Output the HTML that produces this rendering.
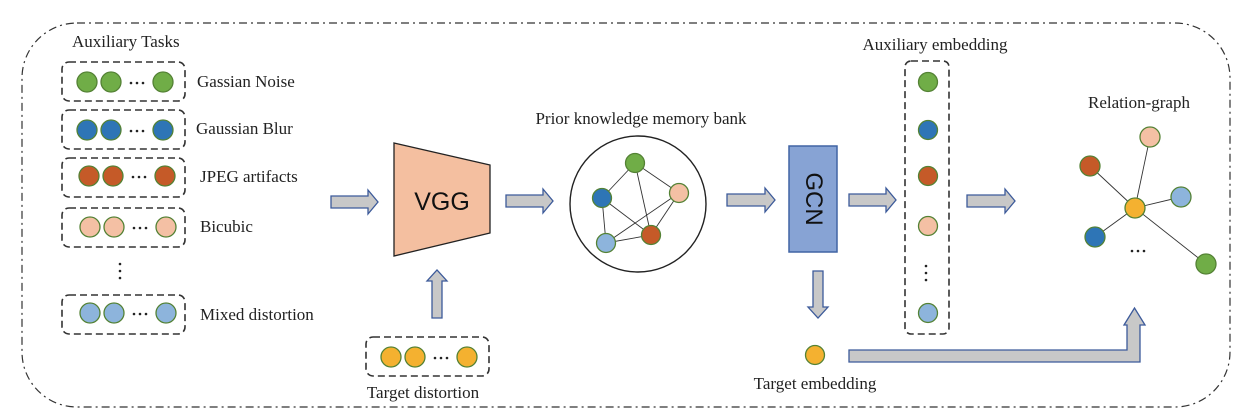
<!DOCTYPE html>
<html><head><meta charset="utf-8"><style>
body{margin:0;background:#fff}
svg{display:block}
.t{font-family:"Liberation Serif",serif;font-size:17px;fill:#222}
</style></head><body>
<svg width="1243" height="417" viewBox="0 0 1243 417" xmlns="http://www.w3.org/2000/svg">
<defs>
<g id="dots"><circle cx="0" cy="0" r="1.3" fill="#222"/><circle cx="6" cy="0" r="1.3" fill="#222"/><circle cx="12" cy="0" r="1.3" fill="#222"/></g>
</defs>
<rect x="22" y="23" width="1208" height="384" rx="55" fill="none" stroke="#333" stroke-width="1.2" stroke-dasharray="8,4,2,4"/>
<text class="t" x="72" y="47">Auxiliary Tasks</text>

<g stroke="#333" stroke-width="1.6" fill="none" stroke-dasharray="7,4">
<rect x="62" y="62" width="123" height="39" rx="7"/>
<rect x="62" y="110" width="123" height="39" rx="7"/>
<rect x="62" y="158" width="123" height="39" rx="7"/>
<rect x="62" y="208" width="123" height="39" rx="7"/>
<rect x="62" y="295" width="123" height="39" rx="7"/>
<rect x="366" y="337" width="123" height="39" rx="7"/>
<rect x="905" y="61" width="44" height="273" rx="6"/>
</g>
<g stroke="#548235" stroke-width="1.3">
<circle cx="87" cy="82" r="10" fill="#70ad47"/><circle cx="111" cy="82" r="10" fill="#70ad47"/><circle cx="163" cy="82" r="10" fill="#70ad47"/>
<circle cx="87" cy="130" r="10" fill="#2e75b6"/><circle cx="111" cy="130" r="10" fill="#2e75b6"/><circle cx="163" cy="130" r="10" fill="#2e75b6"/>
<circle cx="89" cy="176" r="10" fill="#c55a28"/><circle cx="113" cy="176" r="10" fill="#c55a28"/><circle cx="165" cy="176" r="10" fill="#c55a28"/>
<circle cx="90" cy="227" r="10" fill="#f4c0a4"/><circle cx="114" cy="227" r="10" fill="#f4c0a4"/><circle cx="166" cy="227" r="10" fill="#f4c0a4"/>
<circle cx="90" cy="313" r="10" fill="#8db4dc"/><circle cx="114" cy="313" r="10" fill="#8db4dc"/><circle cx="166" cy="313" r="10" fill="#8db4dc"/>
<circle cx="391" cy="357" r="10" fill="#f4b130"/><circle cx="415" cy="357" r="10" fill="#f4b130"/><circle cx="467" cy="357" r="10" fill="#f4b130"/>
</g>
<use href="#dots" x="131" y="83"/><use href="#dots" x="131" y="131"/><use href="#dots" x="133" y="177"/><use href="#dots" x="134" y="228"/><use href="#dots" x="134" y="314"/><use href="#dots" x="435" y="358"/>
<g fill="#222"><circle cx="120" cy="264" r="1.3"/><circle cx="120" cy="271" r="1.3"/><circle cx="120" cy="278" r="1.3"/></g>
<text class="t" x="197" y="87">Gassian Noise</text>
<text class="t" x="196" y="134">Gaussian Blur</text>
<text class="t" x="200" y="182">JPEG artifacts</text>
<text class="t" x="200" y="232">Bicubic</text>
<text class="t" x="200" y="320">Mixed distortion</text>
<text class="t" x="423" y="398" text-anchor="middle">Target distortion</text>

<g fill="#c8c8c8" stroke="#3c5a9a" stroke-width="1.3">
<path d="M331,196 H368 V190 L378,202 L368,214 V208 H331 Z"/>
<path d="M506,195 H543 V189 L553,201 L543,213 V207 H506 Z"/>
<path d="M727,194 H765 V188 L775,200 L765,212 V206 H727 Z"/>
<path d="M849,194 H886 V188 L896,200 L886,212 V206 H849 Z"/>
<path d="M967,195 H1005 V189 L1015,201 L1005,213 V207 H967 Z"/>
<path d="M432,318 V281 H427 L437,270 L447,281 H442 V318 Z"/>
<path d="M813,271 V307 H808 L818,318 L828,307 H823 V271 Z"/>
<path d="M849,350 H1127 V325 H1124 L1134.5,308 L1145,325 H1140 V362 H849 Z"/>
</g>

<path d="M394,143 L490,165 L490,233 L394,256 Z" fill="#f4bfa0" stroke="#222" stroke-width="1.3"/>
<text x="442" y="210" font-family="Liberation Sans,sans-serif" font-size="25" text-anchor="middle" fill="#111">VGG</text>

<text class="t" x="641" y="124" text-anchor="middle">Prior knowledge memory bank</text>
<circle cx="638" cy="204" r="68" fill="none" stroke="#222" stroke-width="1.4"/>
<g stroke="#333" stroke-width="0.9">
<line x1="635" y1="163" x2="602" y2="198"/><line x1="635" y1="163" x2="679" y2="193"/><line x1="635" y1="163" x2="651" y2="235"/>
<line x1="602" y1="198" x2="606" y2="243"/><line x1="602" y1="198" x2="651" y2="235"/><line x1="606" y1="243" x2="651" y2="235"/>
<line x1="606" y1="243" x2="679" y2="193"/><line x1="651" y1="235" x2="679" y2="193"/>
</g>
<g stroke="#548235" stroke-width="1.3">
<circle cx="635" cy="163" r="9.5" fill="#70ad47"/><circle cx="602" cy="198" r="9.5" fill="#2e75b6"/><circle cx="679" cy="193" r="9.5" fill="#f4c0a4"/><circle cx="606" cy="243" r="9.5" fill="#8db4dc"/><circle cx="651" cy="235" r="9.5" fill="#c55a28"/>
</g>

<rect x="789" y="146" width="48" height="106" fill="#87a3d4" stroke="#4064a4" stroke-width="1.5"/>
<text x="0" y="0" transform="translate(806,199) rotate(90)" font-family="Liberation Sans,sans-serif" font-size="24" text-anchor="middle" fill="#111">GCN</text>

<text class="t" x="935" y="50" text-anchor="middle">Auxiliary embedding</text>
<g stroke="#548235" stroke-width="1.3">
<circle cx="928" cy="82" r="9.5" fill="#70ad47"/><circle cx="928" cy="130" r="9.5" fill="#2e75b6"/><circle cx="928" cy="176" r="9.5" fill="#c55a28"/><circle cx="928" cy="226" r="9.5" fill="#f4c0a4"/><circle cx="928" cy="313" r="9.5" fill="#8db4dc"/>
<circle cx="815" cy="355" r="9.5" fill="#f4b130"/>
</g>
<g fill="#222"><circle cx="926" cy="266" r="1.3"/><circle cx="926" cy="273" r="1.3"/><circle cx="926" cy="280" r="1.3"/></g>
<text class="t" x="815" y="389" text-anchor="middle">Target embedding</text>

<text class="t" x="1139" y="108" text-anchor="middle">Relation-graph</text>
<g stroke="#333" stroke-width="0.9">
<line x1="1135" y1="208" x2="1150" y2="137"/><line x1="1135" y1="208" x2="1090" y2="166"/><line x1="1135" y1="208" x2="1181" y2="197"/><line x1="1135" y1="208" x2="1095" y2="237"/><line x1="1135" y1="208" x2="1206" y2="264"/>
</g>
<g stroke="#548235" stroke-width="1.3">
<circle cx="1150" cy="137" r="10" fill="#f4c0a4"/><circle cx="1090" cy="166" r="10" fill="#c55a28"/><circle cx="1181" cy="197" r="10" fill="#8db4dc"/><circle cx="1095" cy="237" r="10" fill="#2e75b6"/><circle cx="1206" cy="264" r="10" fill="#70ad47"/><circle cx="1135" cy="208" r="10" fill="#f4b130"/>
</g>
<use href="#dots" x="1132" y="251"/>
</svg>
</body></html>
